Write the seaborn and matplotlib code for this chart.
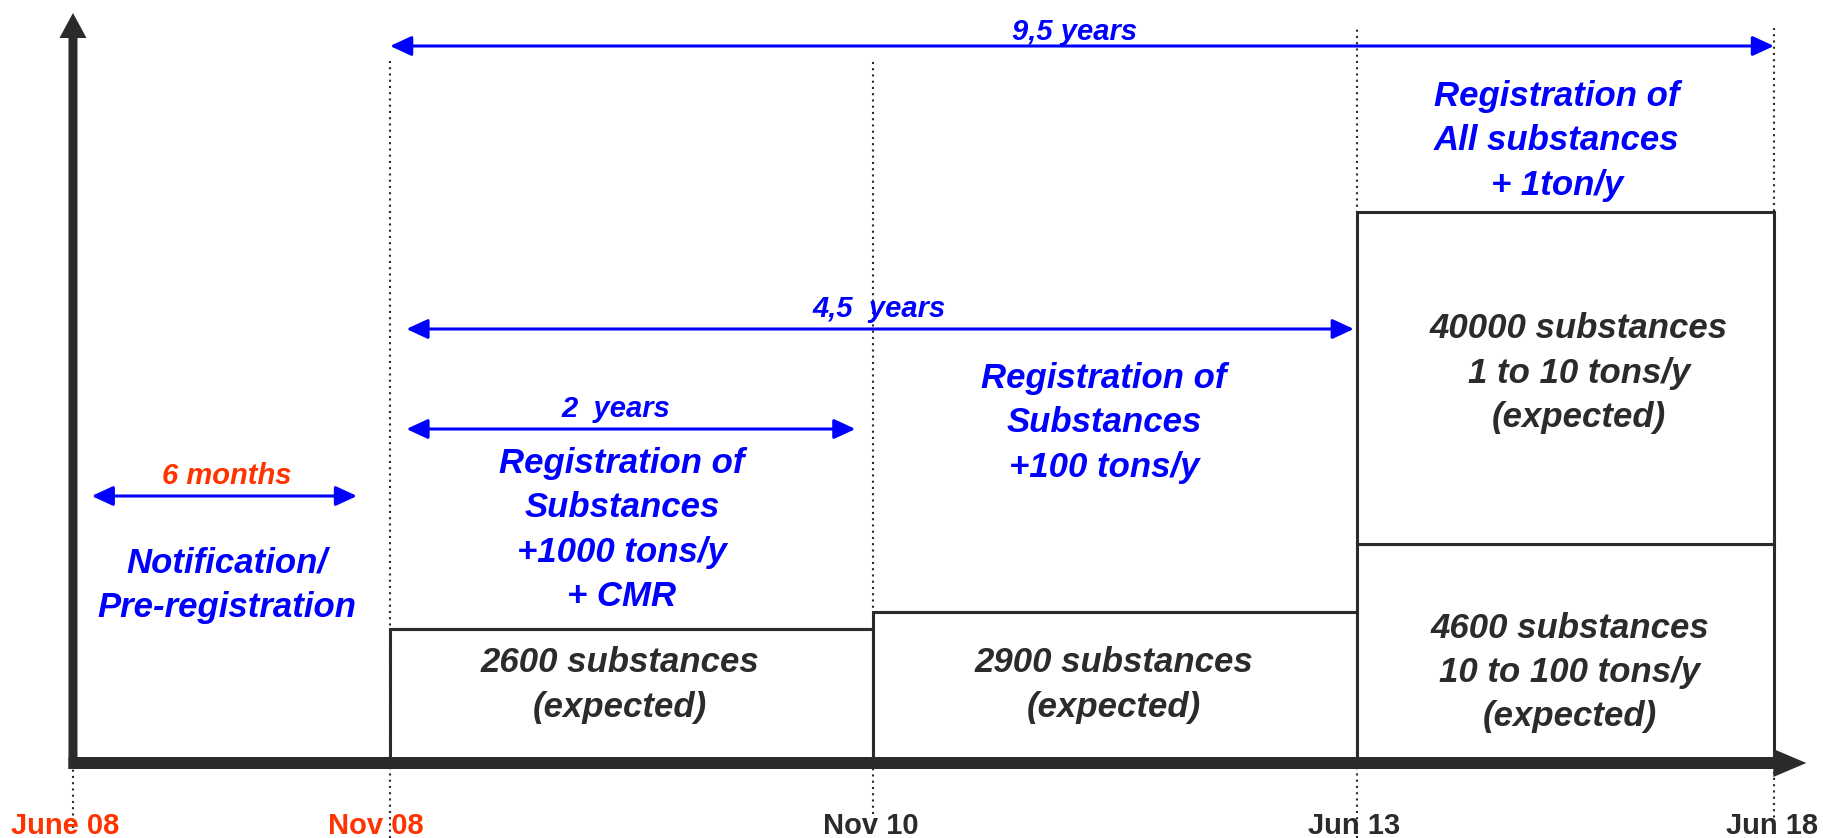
import numpy as np
import pandas as pd
import matplotlib
matplotlib.use('Agg')
import matplotlib.pyplot as plt
import seaborn as sns

sns.set_theme(style="white")
plt.rcParams['font.family'] = ['Liberation Sans', 'DejaVu Sans']

# ====================== data ======================
# schematic timeline (not to scale), units along the time axis
milestones = ["June 08", "Nov 08", "Nov 10", "Jun 13", "Jun 18"]
milestone_x = [0.0, 1.864, 4.703, 7.548, 10.0]
milestone_colors = ["#ff3300", "#ff3300", "#2b2b2b", "#2b2b2b", "#2b2b2b"]

# boxes above the axis for the phases Nov08-Nov10, Nov10-Jun13, Jun13-Jun18
base_height = [1.34, 1.51, 2.19]
upper_height = [3.32]          # only the last phase has a second tier
base_text = ["2600 substances\n(expected)",
             "2900 substances\n(expected)",
             "4600 substances\n10 to 100 tons/y\n(expected)"]
upper_text = ["40000 substances\n1 to 10 tons/y\n(expected)"]

phase_text = ["Notification/\nPre-registration",
              "Registration of\nSubstances\n+1000 tons/y\n+ CMR",
              "Registration of\nSubstances\n+100 tons/y",
              "Registration of\nAll substances\n+ 1ton/y"]

span_labels = ["6 months", "2  years", "4,5  years", "9,5 years"]
span_start = [0.11, 1.96, 1.96, 1.864]
span_end = [1.67, 4.60, 7.53, 10.0]
span_level = [2.67, 3.34, 4.34, 7.17]
span_label_x = [0.905, 3.19, 4.74, 5.89]
span_label_colors = ["#ff3300", "#0000ff", "#0000ff", "#0000ff"]

BLUE = "#0000ff"
DARK = "#2b2b2b"
FAM = ['Liberation Sans', 'DejaVu Sans']

# ====================== figure ======================
fig = plt.figure(figsize=(18.23, 8.38), dpi=100)
ax = fig.add_axes([0, 0, 1, 1])

# boxes: variable width bars via weighted histogram, stacked tiers
mids = [(a + b) / 2 for a, b in zip(milestone_x[1:-1], milestone_x[2:])]
df = pd.DataFrame({
    "mid": mids + [mids[-1]],
    "height": base_height + upper_height,
    "tier": ["base"] * len(base_height) + ["upper"] * len(upper_height),
})
sns.histplot(data=df, x="mid", weights="height", hue="tier",
             hue_order=["upper", "base"], bins=milestone_x[1:],
             multiple="stack", element="bars", fill=True,
             palette={"base": "white", "upper": "white"}, alpha=1,
             edgecolor=DARK, linewidth=2.2, legend=False, ax=ax, zorder=3)

# dotted guide lines
ax.vlines(milestone_x[1], -0.75, 7.02, colors=DARK, linestyles=(0, (1, 2)), lw=1.5, zorder=1)
ax.vlines(milestone_x[2], -0.51, 7.03, colors=DARK, linestyles=(0, (1, 2)), lw=1.5, zorder=1)
ax.vlines(milestone_x[3], -0.75, 7.35, colors=DARK, linestyles=(0, (1, 2)), lw=1.5, zorder=1)
ax.vlines(milestone_x[4], -0.67, 7.35, colors=DARK, linestyles=(0, (1, 2)), lw=1.5, zorder=1)
ax.vlines(milestone_x[0], -0.65, -0.06, colors=DARK, linestyles=(0, (1, 2)), lw=1.5, zorder=1)

# time axis and vertical axis, drawn as thick arrows
ax.arrow(-0.026, 0, 10.216, 0, width=0.12, head_width=0.28, head_length=0.194,
         length_includes_head=True, color=DARK, lw=0, zorder=5)
ax.arrow(0, -0.06, 0, 7.56, width=0.053, head_width=0.159, head_length=0.25,
         length_includes_head=True, color=DARK, lw=0, zorder=5)

# duration arrows
for lab, x0, x1, lvl, lx, c in zip(span_labels, span_start, span_end, span_level,
                                   span_label_x, span_label_colors):
    ax.annotate("", xy=(x1, lvl), xytext=(x0, lvl),
                arrowprops=dict(arrowstyle="<|-|>,head_length=13,head_width=6",
                                mutation_scale=1, color=BLUE, lw=2.2,
                                shrinkA=0, shrinkB=0), zorder=6)
    off = 0.06 if lab.startswith("9") else 0.12
    ax.text(lx, lvl + off, lab, color=c, fontsize=21, fontweight="bold",
            fontstyle="italic", ha="center", va="baseline", family=FAM, zorder=7)

# phase descriptions
phase_pos = [(0.905, 1.78), (3.227, 2.33), (6.061, 3.40), (8.724, 6.22)]
for txt, (px, py) in zip(phase_text, phase_pos):
    ax.text(px, py, txt, color=BLUE, fontsize=25, fontweight="bold", fontstyle="italic",
            ha="center", va="center", multialignment="center", linespacing=1.43,
            family=FAM, zorder=7)

# box contents
box_pos = [(3.216, 0.78), (6.12, 0.78), (8.801, 0.905)]
for txt, (px, py) in zip(base_text + upper_text, box_pos + [(8.854, 3.90)]):
    ax.text(px, py, txt, color=DARK, fontsize=25, fontweight="bold", fontstyle="italic",
            ha="center", va="center", multialignment="center", linespacing=1.43,
            family=FAM, zorder=7)

# milestone labels
label_x = [-0.047, 1.78, 4.69, 7.53, 9.99]
for lab, lx, c in zip(milestones, label_x, milestone_colors):
    ax.text(lx, -0.71, lab, color=c, fontsize=21, fontweight="bold",
            ha="center", va="baseline", family=FAM, zorder=7)

ax.set_xlim(-0.429, 10.288)
ax.set_ylim(-0.75, 7.63)
ax.axis("off")

plt.savefig("out.png", dpi=100)
plt.close()
